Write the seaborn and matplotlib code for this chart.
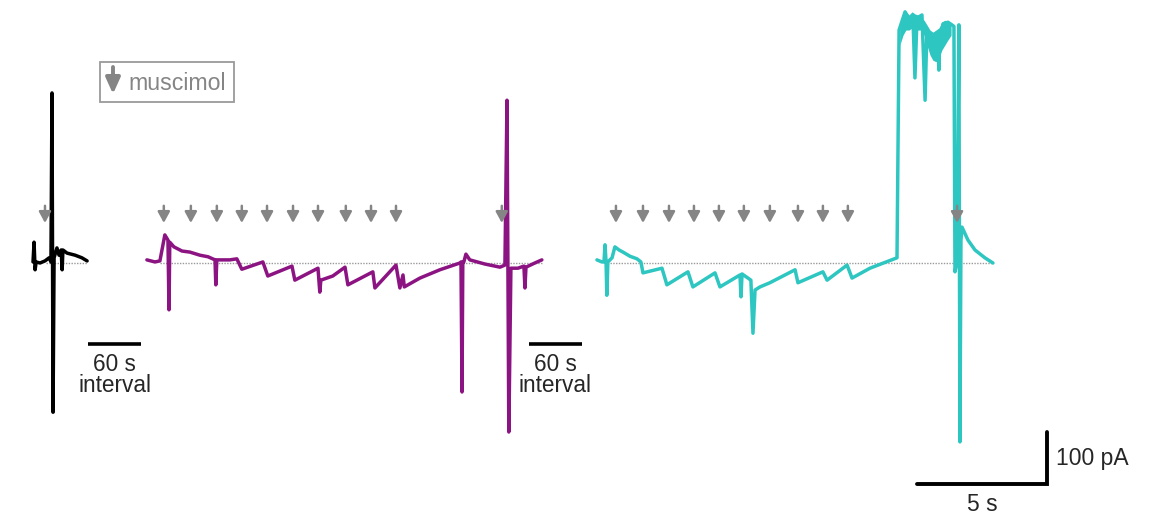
import numpy as np
import pandas as pd
import matplotlib
matplotlib.use("Agg")
import matplotlib.pyplot as plt
from matplotlib.patches import Rectangle
import seaborn as sns

# ---- recorded currents: time (s from segment start) and current (pA, baseline = 0) ----
control_t = [0.00, 0.04, 0.08, 0.12, 0.27, 0.46, 0.62, 0.69, 0.73, 0.77, 0.81, 0.92,
             1.00, 1.08, 1.12, 1.15, 1.31, 1.62, 1.88, 2.08]
control_i = [2, 40, -13, 2, 0, 4, 10, 2, 327, -287, 10, 29,
             15, 25, -13, 25, 19, 15, 10, 4]

cell1_t = [0.00, 0.31, 0.50, 0.69, 0.81, 0.85, 0.88, 1.04, 1.35, 1.65, 2.04, 2.35,
           2.62, 2.65, 2.69, 3.19, 3.46, 3.65, 4.46, 4.65, 5.58, 5.69, 6.58, 6.65,
           6.69, 7.15, 7.62, 7.73, 8.69, 8.77, 9.58, 9.73, 9.85, 9.90, 10.50, 11.27,
           12.04, 12.08, 12.12, 12.15, 12.19, 12.27, 12.42, 13.00, 13.58, 13.77, 13.85,
           13.92, 14.00, 14.27, 14.50, 14.54, 14.58, 14.92, 15.19]
cell1_i = [6, 2, 4, 54, 44, -90, 40, 31, 23, 21, 15, 12,
           6, -42, 6, 6, 8, -12, 2, -25, -6, -33, -10, -56,
           -33, -25, -8, -42, -17, -48, -4, -48, -23, -46, -29, -13,
           0, 2, -248, 2, 2, 17, 6, -2, -8, -4, 313,
           -325, -10, -10, -6, -48, -8, 0, 6]

cell2_t = [0.00, 0.19, 0.27, 0.31, 0.35, 0.38, 0.42, 0.58, 0.69, 0.85, 1.00, 1.27,
           1.54, 1.69, 1.77, 2.50, 2.69, 3.50, 3.69, 4.54, 4.73, 5.50, 5.54, 5.58,
           5.92, 6.00, 6.08, 6.27, 6.65, 7.62, 7.73, 8.69, 8.85, 9.62, 9.81, 10.50,
           11.54, 11.62, 11.85, 12.04, 12.15, 12.23, 12.31, 12.50, 12.62, 12.69, 12.88,
           13.00, 13.12, 13.15, 13.18, 13.31, 13.50, 13.65, 13.73, 13.77, 13.85, 13.92,
           13.96, 14.00, 14.04, 14.27, 14.54, 14.92, 15.23]
cell2_i = [6, 2, 2, 35, 2, -62, 2, 10, 31, 25, 21, 13,
           8, 2, -19, -10, -42, -17, -46, -19, -46, -23, -65, -21,
           -33, -135, -52, -46, -38, -13, -38, -17, -33, -4, -29, -10,
           10, 448, 483, 467, 477, 356, 471, 477, 313, 448, 438,
           400, 420, 371, 425, 460, 463, 458, 455, -17, 2, 458,
           -344, 44, 69, 44, 25, 10, 0]

# envelope of the noisy outward plateau in cell 2 (s, pA)
plateau_t = [11.65, 11.77, 11.88, 12.00, 12.12, 12.23, 12.35, 12.46, 12.58, 12.69,
             12.81, 12.92, 13.04, 13.15, 13.27, 13.38, 13.50, 13.62]
plateau_hi = [448, 471, 483, 477, 483, 479, 477, 471, 467, 458,
              448, 444, 448, 452, 463, 467, 463, 458]
plateau_lo = [419, 438, 448, 448, 452, 444, 448, 448, 438, 419,
              400, 390, 387, 394, 410, 419, 429, 438]

# muscimol application times (s from segment start)
control_puffs = [0.46]
cell1_puffs = [0.65, 1.69, 2.69, 3.65, 4.62, 5.62, 6.58, 7.65, 8.62, 9.58, 13.65]
cell2_puffs = [0.73, 1.77, 2.77, 3.73, 4.69, 5.65, 6.65, 7.73, 8.69, 9.65, 13.85]

segment_names = ["control", "cell1", "cell2"]
segment_colors = {"control": "#000000", "cell1": "#8C1482", "cell2": "#2EC6C1"}
# horizontal placement of each segment on the shared time axis (s)
segment_start = {"control": 1.27, "cell1": 5.65, "cell2": 22.96}

traces = {"control": (control_t, control_i, control_puffs),
          "cell1": (cell1_t, cell1_i, cell1_puffs),
          "cell2": (cell2_t, cell2_i, cell2_puffs)}

frames = []
for name in segment_names:
    t, i, _ = traces[name]
    frames.append(pd.DataFrame({"time": np.array(t) + segment_start[name],
                                "current": i, "segment": name}))
df = pd.concat(frames, ignore_index=True)

sns.set_theme(style="white")
plt.rcParams["font.family"] = ["Liberation Sans", "DejaVu Sans"]

W, H = 1160, 517
fig = plt.figure(figsize=(W / 100, H / 100), dpi=100)
ax = fig.add_axes([0, 0, 1, 1])
ax.set_xlim(0, W / 26.0)
ax.set_ylim(-(H - 263) / 0.52, 263 / 0.52)
ax.set_axis_off()

# dotted baselines
for name in segment_names:
    t = traces[name][0]
    x0 = segment_start[name]
    ax.plot([x0 + t[0] + 0.5, x0 + t[-1]], [0, 0], color="#9a9a9a",
            lw=1.0, ls=(0, (1, 1)), zorder=1)

sns.lineplot(data=df, x="time", y="current", hue="segment", palette=segment_colors,
             estimator=None, sort=False, lw=2.5, legend=False, ax=ax, zorder=3)
ax.fill_between(np.array(plateau_t) + segment_start["cell2"], plateau_lo, plateau_hi,
                color=segment_colors["cell2"], lw=0, zorder=3)

# muscimol arrows
arrow_kw = dict(arrowstyle="-|>,head_width=0.3,head_length=0.55", color="#858585",
                lw=1.8, shrinkA=0, shrinkB=0)
for name in segment_names:
    for p in traces[name][2]:
        x = segment_start[name] + p
        ax.annotate("", xy=(x, 77), xytext=(x, 110), arrowprops=arrow_kw, zorder=4)

# 60 s interval markers between segments
for xc in (4.42, 21.35):
    ax.plot([xc - 1.02, xc + 1.02], [-156, -156], color="black", lw=2.6,
            solid_capstyle="butt")
    ax.text(xc, -216, "60 s\ninterval", ha="center", va="center",
            multialignment="center", linespacing=0.88, fontsize=16.3)

# scale bar: 5 s, 100 pA
sx, sy = 40.27, -425
ax.plot([sx - 5, sx, sx], [sy, sy, sy + 100], color="black", lw=2.8,
        solid_joinstyle="miter")
ax.text(sx - 2.5, -465, "5 s", ha="center", va="center", fontsize=16.5)
ax.text(sx + 0.33, -375, "100 pA", ha="left", va="center", fontsize=16.5)

# legend box
fig.patches.append(Rectangle((100 / W, 1 - 102 / H), 134 / W, 40 / H,
                             transform=fig.transFigure, fill=False,
                             edgecolor="#9a9a9a", lw=1.3))
ax.annotate("", xy=(113 / W, 1 - 94 / H), xytext=(113 / W, 1 - 67 / H),
            xycoords="figure fraction", textcoords="figure fraction",
            arrowprops=dict(arrowstyle="-|>,head_width=0.36,head_length=0.8",
                            color="#858585", lw=2.8, shrinkA=0, shrinkB=0))
fig.text(128 / W, 1 - 83 / H, "muscimol", ha="left", va="center", fontsize=16.7,
         color="#858585")

fig.savefig("out.png", dpi=100, facecolor="white")
